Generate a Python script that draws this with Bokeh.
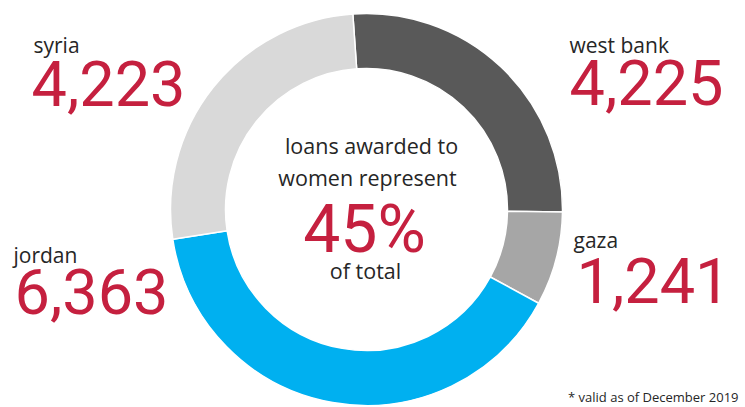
import math
from bokeh.plotting import figure
from bokeh.models import Range1d, ColumnDataSource
from bokeh.core.properties import value
from bokeh.embed import file_html
from bokeh.resources import INLINE

# ---- data ----
regions = ["west bank", "gaza", "jordan", "syria"]
loans = [4225, 1241, 6363, 4223]
region_labels = ["4,225", "1,241", "6,363", "4,223"]
colors = ["#595959", "#a6a6a6", "#00b0f0", "#d9d9d9"]
center_lines = ["loans awarded to", "women represent"]
share_text = "45%"
share_sub = "of total"
footnote = "* valid as of December 2019"

# ---- layout ----
W, H = 745, 407
p = figure(width=W, height=H, output_backend="svg", toolbar_location=None,
           x_range=Range1d(0, W), y_range=Range1d(-H, 0),
           x_axis_location=None, y_axis_location=None, min_border=0)
p.outline_line_color = None
p.grid.visible = False
p.background_fill_color = "white"
p.border_fill_color = "white"

cx, cy = 366, -209
r_in, r_out = 141, 196
start_top = math.radians(94)
total = sum(loans)
starts, ends = [], []
cum = 0
for v in loans:
    a_end = start_top - 2 * math.pi * cum / total
    cum += v
    a_start = start_top - 2 * math.pi * cum / total
    starts.append(a_start)
    ends.append(a_end)

src = ColumnDataSource(dict(start=starts, end=ends, color=colors, region=regions, n=loans))
p.annular_wedge(x=cx, y=cy, inner_radius=r_in, outer_radius=r_out,
                start_angle="start", end_angle="end", fill_color="color",
                line_color="white", line_width=1.5, source=src)

RED = "#c5203f"
DARK = "#262626"
LFONT = value("Open Sans")
NFONT = value("Roboto")
K = 0.35  # empirical baseline correction (fraction of font size)


def put(x, baseline, txt, fs, font, color, align="left"):
    p.text(x=[x], y=[-(baseline - K * fs)], text=[txt], text_font=font,
           text_font_size=f"{fs}px", text_color=color, text_align=align,
           text_baseline="alphabetic")


# region labels: (name x, name baseline, number x, number baseline)
pos = {
    "west bank": (569, 52, 569, 104),
    "gaza": (573, 247, 576, 302),
    "jordan": (13, 262, 14, 313),
    "syria": (33, 52, 31, 105),
}
for i, name in enumerate(regions):
    nx, ny, vx, vy = pos[name]
    put(nx, ny, name, 21, LFONT, DARK)
    put(vx, vy, region_labels[i], 63, NFONT, RED)

# center text
put(371, 153, center_lines[0], 21.5, LFONT, DARK, "center")
put(367, 185, center_lines[1], 21.5, LFONT, DARK, "center")
put(364, 252, share_text, 66, NFONT, RED, "center")
put(365, 278, share_sub, 21.5, LFONT, DARK, "center")

# footnote
put(738, 401, footnote, 13, LFONT, DARK, "right")

open("out.html", "w").write(file_html(p, INLINE))
